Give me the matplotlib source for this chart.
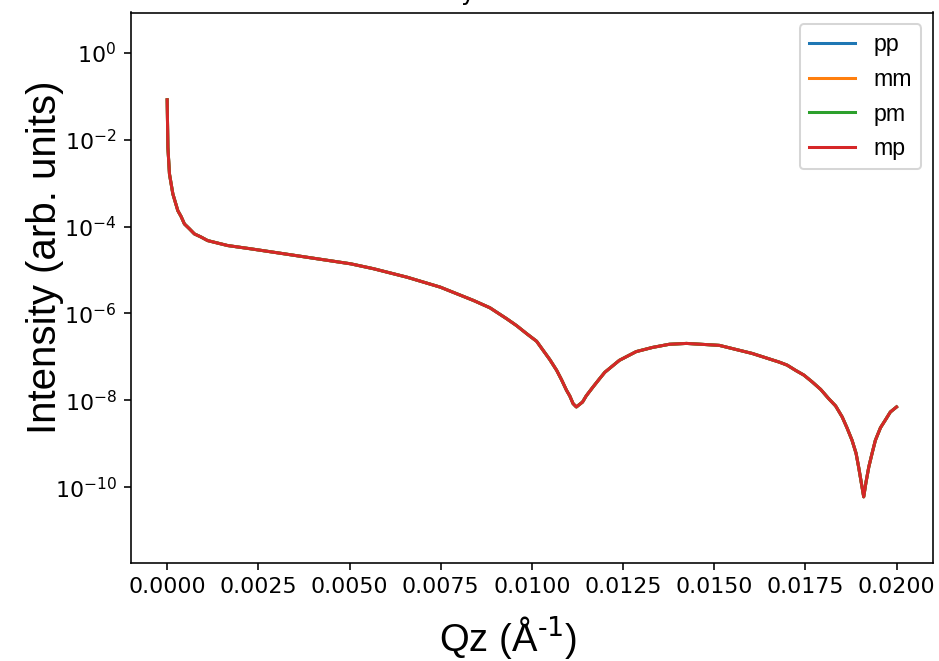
import numpy as np
from matplotlib import pyplot as plt
from matplotlib.ticker import NullLocator

# momentum transfer (1/Angstrom)
qz = [0.0, 0.00002, 0.000063, 0.000156, 0.000292, 0.000383, 0.000473,
      0.000609, 0.000746, 0.000929, 0.00111, 0.001385, 0.00166, 0.00230,
      0.00321, 0.00412, 0.00503, 0.00566, 0.00658, 0.00749, 0.00840,
      0.00885, 0.00931, 0.00958, 0.00986, 0.01013, 0.01031, 0.01049,
      0.01068, 0.01081, 0.01095, 0.01104, 0.01113, 0.01122, 0.01139,
      0.01149, 0.01167, 0.01186, 0.01200, 0.01240, 0.01286, 0.01331,
      0.01377, 0.01424, 0.01514, 0.01604, 0.01678, 0.01700, 0.01723,
      0.01746, 0.01769, 0.01792, 0.01814, 0.01833, 0.01851, 0.01864,
      0.01878, 0.01889, 0.01896, 0.01910, 0.01916, 0.01924, 0.01933,
      0.01942, 0.01956, 0.01969, 0.01983, 0.02000]

# reflected intensity, pp channel
R_pp = [8.32e-2, 6.65e-3, 1.63e-3, 5.65e-4, 2.33e-4, 1.70e-4, 1.15e-4,
        8.91e-5, 6.79e-5, 5.75e-5, 4.76e-5, 4.17e-5, 3.66e-5, 3.07e-5,
        2.36e-5, 1.81e-5, 1.39e-5, 1.07e-5, 6.82e-6, 4.03e-6, 1.99e-6,
        1.35e-6, 7.55e-7, 5.25e-7, 3.41e-7, 2.29e-7, 1.41e-7, 8.71e-8,
        4.90e-8, 3.02e-8, 1.70e-8, 1.26e-8, 8.39e-9, 7.02e-9, 9.12e-9,
        1.26e-8, 1.99e-8, 3.16e-8, 4.41e-8, 8.32e-8, 1.32e-7, 1.65e-7,
        1.95e-7, 2.04e-7, 1.84e-7, 1.20e-7, 7.59e-8, 6.46e-8, 4.90e-8,
        3.80e-8, 2.64e-8, 1.78e-8, 1.09e-8, 7.41e-9, 4.13e-9, 2.34e-9,
        1.20e-9, 6.03e-10, 2.93e-10, 5.98e-11, 1.26e-10, 2.93e-10, 6.03e-10,
        1.20e-9, 2.34e-9, 3.47e-9, 5.37e-9, 7.02e-9]

# non-magnetic sample: all spin channels come out identical
R_mm = R_pp
R_pm = R_pp
R_mp = R_pp

channels = ['pp', 'mm', 'pm', 'mp']

fig = plt.figure(figsize=(939 / 145, 661 / 145), dpi=145)
ax = fig.add_axes([130.7 / 939, 1 - 562.7 / 661,
                   (933 - 130.7) / 939, (562.7 - 12.5) / 661])

for name, R in zip(channels, [R_pp, R_mm, R_pm, R_mp]):
    ax.plot(qz, R, label=name)

ax.set_yscale('log')
ax.set_ylim(10 ** -11.74, 10 ** 0.93)
ax.set_yticks(10.0 ** np.arange(-10, 1, 2))
ax.yaxis.set_minor_locator(NullLocator())
ax.tick_params(labelsize=11)

ax.set_title('Reflectivity for all four channels')
ax.set_ylabel('Intensity (arb. units)', fontsize=20, fontname='Liberation Sans')
ax.set_xlabel('Qz (Å$^{\\text{-1}}$)', fontsize=19,
              fontname='Liberation Sans')
ax.yaxis.set_label_coords(-0.083, 0.556)
ax.xaxis.set_label_coords(0.470, -0.094)

ax.legend(loc='upper right', prop={'family': 'Liberation Sans', 'size': 11.5})

fig.savefig('out.png', dpi=145)
